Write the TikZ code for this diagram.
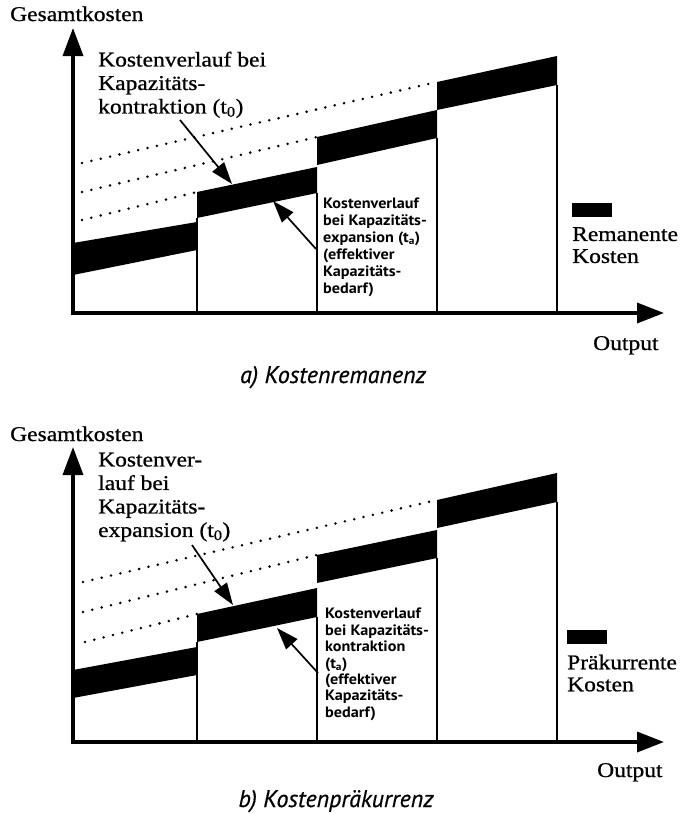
\documentclass[tikz,border=0pt]{standalone}
\usepackage{fontspec}
\setmainfont{Liberation Serif}
\newfontfamily\bigfont[FakeStretch=1.12,FakeBold=0.8]{Liberation Serif}
\newfontfamily\smallfont[FakeStretch=1.08]{PT Sans}
\newfontfamily\capfont[FakeBold=0.6]{PT Sans}
\usetikzlibrary{arrows.meta}
\tikzset{
  band/.style={fill=black,draw=none},
  axisline/.style={line width=3.5pt,line join=miter,
    {Triangle[length=28pt,width=20pt]}-{Triangle[length=27pt,width=20pt]}},
  vline/.style={line width=1.6pt},
  dotline/.style={line width=2.8pt,line cap=round,dash pattern=on 0pt off 9.6pt},
  pointer/.style={line width=1.7pt,-{Triangle[length=22pt,width=15pt]}},
  bigtext/.style={inner sep=0pt,align=left,font=\bigfont\fontsize{21}{23.5}\selectfont},
  smalltext/.style={inner sep=0pt,align=left,font=\smallfont\bfseries\fontsize{15}{17}\selectfont},
  captext/.style={inner sep=0pt,font=\capfont\itshape\fontsize{24}{26}\selectfont},
  legendbox/.style={fill=black,draw=none,minimum width=40pt,minimum height=14pt,inner sep=0pt}
}
\begin{document}
\begin{tikzpicture}[x=1pt,y=-1pt]
\useasboundingbox (0,0) rectangle (683,814);

% ================= Panel a =================
\coordinate (aY) at (73,28);
\coordinate (aO) at (73,313);
\coordinate (aX) at (664,313);
% dotted extensions
\draw[dotline] (82,163) -- (437,82);
\draw[dotline] (82,192) -- (317,137);
\draw[dotline] (82,220) -- (197,192);
% bands
\fill[band] (73,243) -- (197,222) -- (197,250) -- (73,275) -- cycle;
\fill[band] (197,192) -- (317,167) -- (317,193) -- (197,218) -- cycle;
\fill[band] (317,137) -- (437,110) -- (437,138) -- (317,165) -- cycle;
\fill[band] (437,82) -- (557,56) -- (557,85) -- (437,110) -- cycle;
% verticals
\draw[vline] (197,218) -- (197,313);
\draw[vline] (317,193) -- (317,313);
\draw[vline] (437,138) -- (437,313);
\draw[vline] (557,85) -- (557,313);
% axes
\draw[axisline] (aY) -- (aO) -- (aX);
% texts
\node[bigtext,anchor=base west] (aGes) at (10,21) {Gesamtkosten};
\node[bigtext,anchor=north west] (aLab) at (98,51.5)
  {Kostenverlauf bei\\Kapazitäts-\\kontraktion (t\textsubscript{0})};
\node[smalltext,anchor=north west] (aSmall) at (323,198)
  {Kostenverlauf\\bei Kapazitäts-\\expansion (t\textsubscript{a})\\(effektiver\\Kapazitäts-\\bedarf)};
\node[legendbox,anchor=north west] (aLeg) at (572,203) {};
\node[bigtext,anchor=north west] (aLegT) at (572,227) {Remanente\\[-1.5pt]Kosten};
\node[bigtext,anchor=base west] (aOut) at (593,350) {Output};
\node[captext,anchor=base] (aCap) at (333,383) {a) Kostenremanenz};
% pointers
\coordinate (aP1s) at (180,120);
\coordinate (aP1e) at (232,184);
\coordinate (aP2s) at (316,249);
\coordinate (aP2e) at (273,201);
\draw[pointer] (aP1s) -- (aP1e);
\draw[pointer] (aP2s) -- (aP2e);

% ================= Panel b =================
\coordinate (bY) at (73,447);
\coordinate (bO) at (73,742);
\coordinate (bX) at (664,742);
\draw[dotline] (83,582) -- (437,500);
\draw[dotline] (83,612) -- (317,555);
\draw[dotline] (85,642) -- (197,614);
\fill[band] (73,670) -- (197,647) -- (197,675) -- (73,698) -- cycle;
\fill[band] (197,614) -- (317,588) -- (317,617) -- (197,642) -- cycle;
\fill[band] (317,555) -- (437,530) -- (437,558) -- (317,583) -- cycle;
\fill[band] (437,500) -- (557,473) -- (557,502) -- (437,528) -- cycle;
\draw[vline] (197,642) -- (197,742);
\draw[vline] (317,617) -- (317,742);
\draw[vline] (437,558) -- (437,742);
\draw[vline] (557,502) -- (557,742);
\draw[axisline] (bY) -- (bO) -- (bX);
\node[bigtext,anchor=base west] (bGes) at (10,441) {Gesamtkosten};
\node[bigtext,anchor=north west] (bLab) at (98,452.5)
  {Kostenver-\\lauf bei\\Kapazitäts-\\expansion (t\textsubscript{0})};
\node[smalltext,anchor=north west,font=\smallfont\bfseries\fontsize{15}{16.4}\selectfont] (bSmall) at (325,608)
  {Kostenverlauf\\bei Kapazitäts-\\kontraktion\\(t\textsubscript{a})\\(effektiver\\Kapazitäts-\\bedarf)};
\node[legendbox,anchor=north west] (bLeg) at (567,630) {};
\node[bigtext,anchor=north west] (bLegT) at (567,654.5) {Präkurrente\\[-1.5pt]Kosten};
\node[bigtext,anchor=base west] (bOut) at (597,777) {Output};
\node[captext,anchor=base] (bCap) at (336,807) {b) Kostenpräkurrenz};
\coordinate (bP1s) at (192,545);
\coordinate (bP1e) at (233,605);
\coordinate (bP2s) at (318,673);
\coordinate (bP2e) at (277,628);
\draw[pointer] (bP1s) -- (bP1e);
\draw[pointer] (bP2s) -- (bP2e);
\end{tikzpicture}
\end{document}
